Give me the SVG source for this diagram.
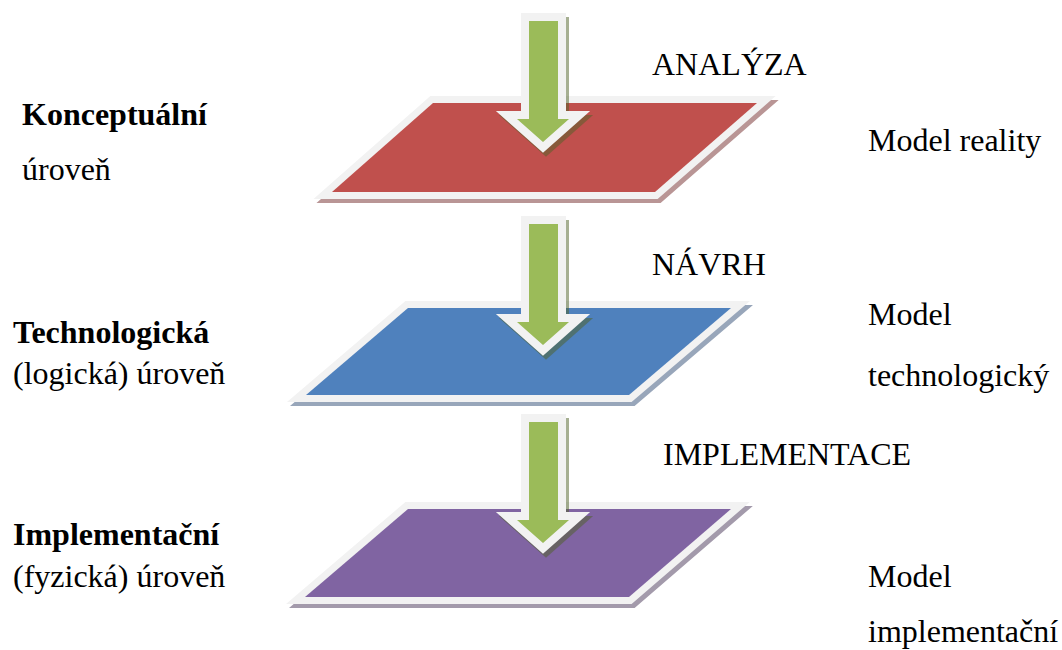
<svg xmlns="http://www.w3.org/2000/svg" width="1062" height="650" viewBox="0 0 1062 650">
  <style>
    text { font-family: 'Liberation Serif', 'DejaVu Serif', serif; font-size: 32px; fill: #000; }
    .b { font-weight: bold; }
    .frame { stroke: #f2f2f2; stroke-width: 14; stroke-linejoin: miter; paint-order: stroke; }
    .arrow { fill: #9bbb59; stroke: #f2f2f2; stroke-width: 16; stroke-linejoin: miter; paint-order: stroke; }
    .arrow-shadow { fill: #4f6228; stroke: #4f6228; stroke-width: 16; stroke-linejoin: miter; }
  </style>
  <defs>
    <polygon id="arrowShape" points="529,0 558,0 558,98 569,98 543,121 517,98 529,98"/>
  </defs>
  <rect width="1062" height="650" fill="#ffffff"/>

  <!-- Layer planes -->
  <g id="plane-conceptual">
    <polygon points="436,107 760,107 658,196 335,196" fill="#b99595" stroke="#b99595" stroke-width="14" stroke-linejoin="miter"/>
    <polygon class="frame" points="433,103 757,103 655,192 332,192" fill="#c0504d"/>
  </g>
  <g id="plane-technological">
    <polygon points="411,312 734,312 632,399 309,399" fill="#98a6ba" stroke="#98a6ba" stroke-width="14" stroke-linejoin="miter"/>
    <polygon class="frame" points="408,308 731,308 629,395 306,395" fill="#4f81bd"/>
  </g>
  <g id="plane-implementation">
    <polygon points="411,513 734,513 632,601 308,601" fill="#a39aab" stroke="#a39aab" stroke-width="14" stroke-linejoin="miter"/>
    <polygon class="frame" points="408,509 731,509 629,597 305,597" fill="#8064a2"/>
  </g>

  <!-- Down arrows between levels -->
  <g id="connectors">
    <g opacity="0.5">
      <use href="#arrowShape" class="arrow-shadow" transform="translate(3,25)"/>
      <use href="#arrowShape" class="arrow-shadow" transform="translate(3,228)"/>
      <use href="#arrowShape" class="arrow-shadow" transform="translate(3,426)"/>
    </g>
    <use href="#arrowShape" class="arrow" transform="translate(0,21)"/>
    <use href="#arrowShape" class="arrow" transform="translate(0,224)"/>
    <use href="#arrowShape" class="arrow" transform="translate(0,422)"/>
  </g>

  <!-- Process labels -->
  <g id="process-labels" font-family="'Liberation Serif', serif">
    <text x="652" y="75">ANALÝZA</text>
    <text x="652" y="275">NÁVRH</text>
    <text x="663" y="465">IMPLEMENTACE</text>
  </g>

  <!-- Level names -->
  <g id="level-labels" font-family="'Liberation Serif', serif">
    <text class="b" x="22" y="125">Konceptuální</text>
    <text x="22" y="180">úroveň</text>
    <text class="b" x="13" y="343">Technologická</text>
    <text x="13" y="384">(logická) úroveň</text>
    <text class="b" x="13" y="545">Implementační</text>
    <text x="13" y="587">(fyzická) úroveň</text>
  </g>

  <!-- Model names -->
  <g id="model-labels" font-family="'Liberation Serif', serif">
    <text x="868" y="151">Model reality</text>
    <text x="868" y="325">Model</text>
    <text x="868" y="386">technologický</text>
    <text x="868" y="587">Model</text>
    <text x="868" y="642">implementační</text>
  </g>
</svg>
